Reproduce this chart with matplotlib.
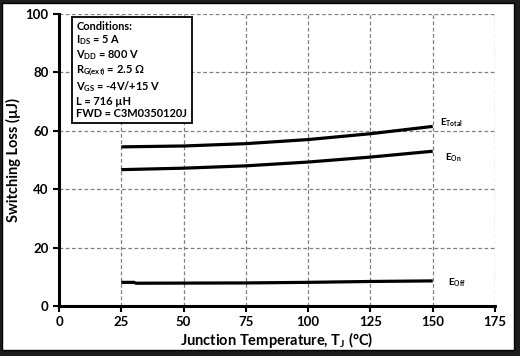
import numpy as np
import matplotlib
matplotlib.use("Agg")
import matplotlib.pyplot as plt
from matplotlib.patches import Rectangle

plt.rcParams['font.family'] = ['Lato', 'DejaVu Sans']
plt.rcParams['mathtext.default'] = 'regular'

### data
temps   = [25, 50, 75, 100, 125, 150]
e_total = [54.5, 54.8, 55.6, 57.0, 59.0, 61.5]
e_on    = [46.7, 47.2, 48.0, 49.3, 51.0, 53.0]
off_temps = [25, 30, 31, 75, 100, 125, 150]
e_off     = [8.1, 8.1, 7.8, 7.9, 8.1, 8.4, 8.6]

xticks = [0, 25, 50, 75, 100, 125, 150, 175]
yticks = [0, 20, 40, 60, 80, 100]

cond_lines = [
    "Conditions:",
    "I$_{DS}$ = 5 A",
    "V$_{DD}$ = 800 V",
    "R$_{G(ext)}$ = 2.5 \u03a9",
    "V$_{GS}$ = -4V/+15 V",
    "L = 716 \u00b5H",
    "FWD = C3M0350120J",
]

fig = plt.figure(figsize=(5.2, 3.56), dpi=100)
fig.patch.set_facecolor('#1c1c1c')
# white panel inside the dark border
fig.patches.append(Rectangle((2/520, 6/356), 512/520, 347/356, transform=fig.transFigure,
                             facecolor='white', edgecolor='black', lw=1.0, zorder=-10))

ax = fig.add_axes([59/520, 50/356, 436/520, 292/356])
ax.set_facecolor('none')
ax.set_zorder(5)

ax.plot(temps, e_total, color='k', lw=2.3, solid_capstyle='butt')
ax.plot(temps, e_on, color='k', lw=2.3, solid_capstyle='butt')
ax.plot(off_temps, e_off, color='k', lw=2.3, solid_capstyle='butt')

ax.text(153, 62.8, "E$_{Total}$", fontsize=7, fontweight='bold', va='center')
ax.text(155, 50.7, "E$_{On}$", fontsize=7, fontweight='bold', va='center')
ax.text(156, 7.9, "E$_{Off}$", fontsize=7, fontweight='bold', va='center')

ax.set_xlim(0, 175)
ax.set_ylim(0, 100)
ax.set_xticks(xticks)
ax.set_yticks(yticks)
ax.grid(True, color='#7f7f7f', lw=0.9, linestyle=(0, (3, 2)))
for s in ['top', 'right']:
    ax.spines[s].set_visible(False)
for s in ['left', 'bottom']:
    ax.spines[s].set_linewidth(2.2)
ax.tick_params(width=1.5, length=4, labelsize=9.5)
for lab in ax.get_xticklabels() + ax.get_yticklabels():
    lab.set_fontweight('bold')

ax.set_xlabel("Junction Temperature, T$_J$ (\u00b0C)", fontsize=10.5, fontweight='bold', labelpad=1)
ax.set_ylabel("Switching Loss (\u00b5J)", fontsize=10.5, fontweight='bold', labelpad=3)

ax.text(0.04, 0.975, "\n".join(cond_lines), transform=ax.transAxes, fontsize=7.9,
        fontweight='bold', va='top', ha='left', linespacing=1.12,
        bbox=dict(boxstyle='square,pad=0.4', facecolor='white', edgecolor='black', lw=1.3))

fig.savefig("out.png", dpi=100, facecolor=fig.get_facecolor())
